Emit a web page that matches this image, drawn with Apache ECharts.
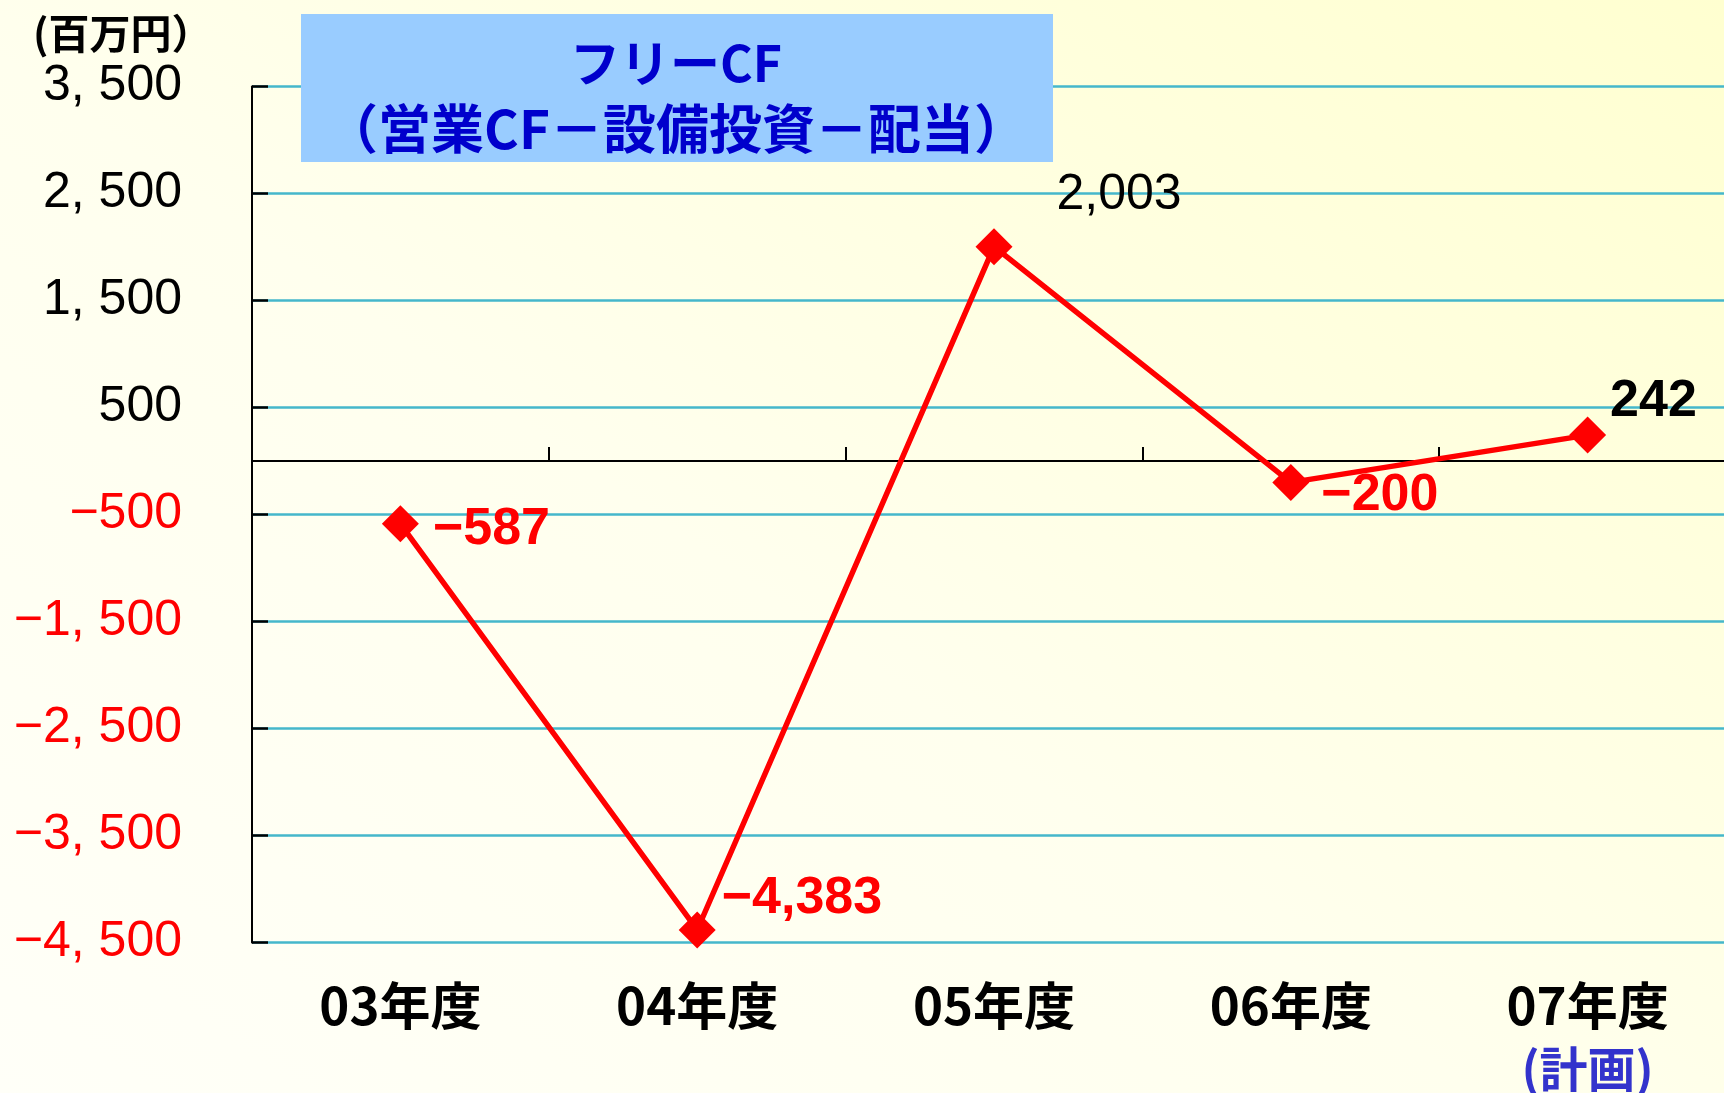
<!DOCTYPE html>
<html><head><meta charset="utf-8">
<script src="https://cdn.jsdelivr.net/npm/echarts@6/dist/echarts.min.js"></script>
<style>
html,body{margin:0;padding:0;overflow:hidden;width:1724px;height:1093px;}
#wrap{width:1724px;height:1093px;overflow:hidden;background:linear-gradient(35deg,#FFFFF8 0%,#FFFFEE 45%,#FFFFD0 100%);}
#c{width:1740px;height:1093px;}
</style>
</head><body><div id="wrap"><div id="c"></div></div>
<script>
// ---- data ----
const categories = ['03年度', '04年度', '05年度', '06年度', '07年度'];
const freeCF = [-587, -4383, 2003, -200, 242];
const yMin = -4500, yMax = 3500, yInterval = 1000;
const unitLabel = '(百万円）';
const titleLines = ['フリーCF', '（営業CF－設備投資－配当）'];
const planNote = '(計画)';
const planIndex = 4;
// label styling (not data)
const labelOffsets = [[14, 6], [6, -31], [44, -51], [12, 13], [4, -33]];
const labelWeights = ['bold', 'bold', 'normal', 'bold', 'bold'];
const labelSizes = [52, 52, 50, 52, 52];

function group(v, sep) {
  return String(Math.abs(v)).replace(/\B(?=(\d{3})+(?!\d))/g, sep);
}
const NUMFONT = '"Liberation Sans", Arial, sans-serif';
const JPFONT = '"Noto Sans CJK JP", sans-serif';

const chart = echarts.init(document.getElementById('c'), null, {renderer: 'canvas'});
chart.setOption({
  backgroundColor: 'transparent',
  animation: false,
  grid: {left: 252, right: 4, top: 86.5, bottom: 150, containLabel: false},
  xAxis: [{
    type: 'category', data: categories, position: 'bottom',
    axisLine: {show: false, onZero: false}, axisTick: {show: false}, splitLine: {show: false},
    axisLabel: {
      margin: 32, interval: 0,
      formatter: (v, i) => i === planIndex ? '{a|' + v + '}\n{b|' + planNote + '}' : '{a|' + v + '}',
      rich: {
        a: {fontFamily: JPFONT, fontSize: 51, fontWeight: 'bold', color: '#000', lineHeight: 63},
        b: {fontFamily: JPFONT, fontSize: 48, fontWeight: 'bold', color: '#3333CC', lineHeight: 63}
      }
    }
  }, {
    type: 'category', data: categories, position: 'bottom',
    axisLine: {show: true, onZero: true, lineStyle: {color: '#000', width: 2}},
    axisTick: {show: true, inside: true, length: 14, lineStyle: {color: '#000', width: 2}},
    axisLabel: {show: false}, splitLine: {show: false}
  }],
  yAxis: {
    type: 'value', min: yMin, max: yMax, interval: yInterval,
    axisLine: {show: true, lineStyle: {color: '#000', width: 2}},
    axisTick: {show: true, inside: true, length: 16, lineStyle: {color: '#000', width: 2.5}},
    splitLine: {show: true, lineStyle: {color: '#45B7CB', width: 2.5}},
    axisLabel: {
      margin: 70, fontFamily: NUMFONT, fontSize: 50, padding: [7, 0, 0, 0],
      formatter: v => (v < 0 ? '\u2212' : '') + group(v, ', '),
      color: v => Number(v) < 0 ? '#FF0000' : '#000000'
    }
  },
  series: [{
    type: 'line', xAxisIndex: 0,
    data: freeCF.map((v, i) => ({
      value: v,
      label: {offset: labelOffsets[i], fontWeight: labelWeights[i], fontSize: labelSizes[i],
        color: v < 0 ? '#FF0000' : '#000000'}
    })),
    lineStyle: {color: '#FF0000', width: 5.5},
    itemStyle: {color: '#FF0000'},
    symbol: 'diamond', symbolSize: 37,
    z: 5,
    label: {
      show: true, position: 'right', distance: 0,
      fontFamily: NUMFONT,
      formatter: p => (p.value < 0 ? '\u2212' : '') + group(p.value, ',')
    }
  }],
  graphic: [
    {type: 'rect', shape: {x: 301, y: 14, width: 752, height: 148}, style: {fill: '#99CCFF'}, z: 10},
    {type: 'text', z: 11, style: {text: titleLines[0], x: 676, y: 63, fill: '#0000CC',
      font: 'bold 50px ' + JPFONT, align: 'center', verticalAlign: 'middle'}},
    {type: 'text', z: 11, style: {text: titleLines[1], x: 676, y: 129, fill: '#0000CC',
      font: 'bold 53px ' + JPFONT, align: 'center', verticalAlign: 'middle'}},
    {type: 'text', z: 11, style: {text: unitLabel, x: 33, y: 33, fill: '#000',
      font: 'bold 41px ' + JPFONT, align: 'left', verticalAlign: 'middle'}}
  ]
});
</script>
</body></html>
